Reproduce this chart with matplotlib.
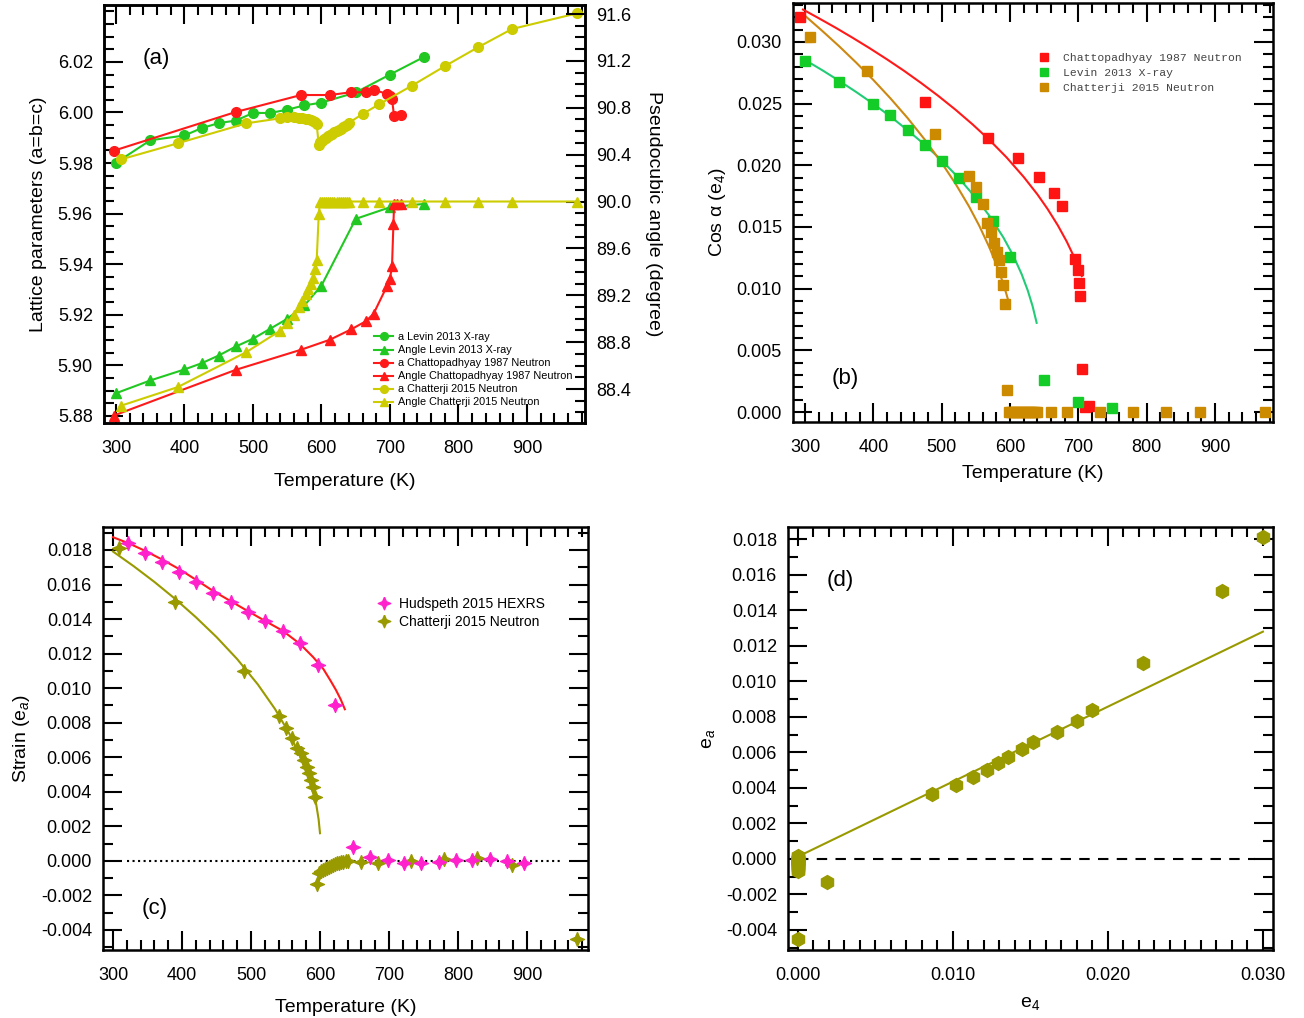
import numpy as np
import matplotlib
matplotlib.use('Agg')
import matplotlib.pyplot as plt
from matplotlib.ticker import MultipleLocator, FixedLocator, FormatStrFormatter

plt.rcParams['font.family'] = ['Liberation Sans', 'DejaVu Sans']
plt.rcParams['mathtext.fontset'] = 'custom'
plt.rcParams['mathtext.rm'] = 'Liberation Sans'
plt.rcParams['mathtext.it'] = 'Liberation Sans:italic'

# ---------------- data : panel (a) ----------------
levin_T = [300, 350, 400, 425, 450, 475, 500, 525, 550, 575, 600, 650, 700, 750]
levin_a = [5.9801, 5.9890, 5.9909, 5.9938, 5.9958, 5.9968, 5.9998, 5.9998, 6.0011,
           6.0028, 6.0039, 6.0079, 6.0150, 6.0220]
levin_angle = [88.364, 88.473, 88.567, 88.620, 88.686, 88.763, 88.829, 88.914, 88.999,
               89.113, 89.283, 89.852, 89.951, 89.980]

chatto_a_T = [297, 475, 570, 612, 643, 665, 676, 696, 700, 703, 706, 716]
chatto_a = [5.9849, 6.0002, 6.0069, 6.0069, 6.0080, 6.0080, 6.0090, 6.0073, 6.0066,
            6.0052, 5.9985, 5.9990]
chatto_ang_T = [297, 475, 570, 612, 643, 665, 676, 696, 700, 703, 705, 706, 710, 716]
chatto_angle = [88.174, 88.564, 88.735, 88.820, 88.908, 88.979, 89.042, 89.283, 89.340,
                89.454, 89.804, 89.98, 89.98, 89.98]

chat_T = [308, 390, 490, 540, 550, 560, 567, 572, 577, 581, 584, 587, 590, 593, 596,
          598, 601, 604, 607, 610, 613, 616, 619, 622, 625, 628, 631, 634, 637, 640,
          660, 684, 732, 780, 828, 878, 973]
chat_a = [5.9815, 5.9878, 5.9957, 5.9977, 5.9981, 5.9981, 5.9979, 5.9978, 5.9975, 5.9974,
          5.9971, 5.9967, 5.9962, 5.9954, 5.9871,
          5.9884, 5.9889, 5.9895, 5.9900, 5.9906, 5.9911, 5.9916, 5.9921, 5.9926, 5.9931,
          5.9936, 5.9941, 5.9946, 5.9952, 5.9959,
          5.9994, 6.0032, 6.0106, 6.0183, 6.0257, 6.0330, 6.0392]
chat_angle = [88.259, 88.416, 88.714, 88.899, 88.965, 89.035, 89.100, 89.155, 89.212,
              89.255, 89.300, 89.350, 89.420, 89.500, 89.890,
              90.0, 90.0, 90.0, 90.0, 90.0, 90.0, 90.0, 90.0, 90.0, 90.0, 90.0, 90.0,
              90.0, 90.0, 90.0,
              90.0, 90.0, 90.0, 90.0, 90.0, 90.0, 90.0]
a_ticks = [5.88, 5.90, 5.92, 5.94, 5.96, 5.98, 6.00, 6.02]

# ---------------- data : panel (b) ----------------
chatto_e4_T = [293, 475, 568, 611, 643, 664, 676, 695, 699, 701, 703, 705, 710, 715]
chatto_e4 = [0.03200, 0.02516, 0.02219, 0.02057, 0.01903, 0.01778, 0.01673, 0.01238,
             0.01151, 0.01043, 0.00940, 0.00346, 0.00038, 0.00049]
levin_e4 = [0.02846, 0.02673, 0.02495, 0.02408, 0.02287, 0.02165, 0.02038, 0.01900,
            0.01746, 0.01551, 0.01254, 0.00259, 0.00084, 0.00035]
chat_e4 = [0.03038, 0.02768, 0.02251, 0.01916, 0.01822, 0.01687, 0.01530, 0.01462,
           0.01368, 0.01300, 0.01232, 0.01138, 0.01030, 0.00876, 0.00178,
           0, 0, 0, 0, 0, 0, 0, 0, 0, 0, 0, 0, 0, 0, 0,
           0, 0, 0, 0, 0, 0, 0]

fit_chatto_T = [297, 320, 345, 370, 395, 420, 445, 470, 495, 520, 545, 570, 595, 620,
                640, 655, 670, 683, 693, 700, 705]
fit_chatto_e4 = [0.03263, 0.03193, 0.03115, 0.03033, 0.02948, 0.02859, 0.02766, 0.02667,
                 0.02563, 0.02452, 0.02333, 0.02205, 0.02064, 0.01906, 0.01765, 0.01646,
                 0.01513, 0.01382, 0.01266, 0.01175, 0.01102]
fit_levin_T = [300, 325, 350, 375, 400, 425, 450, 475, 500, 525, 550, 570, 590, 605,
               617, 626, 633, 639]
fit_levin_e4 = [0.02854, 0.02772, 0.02685, 0.02594, 0.02498, 0.02396, 0.02285, 0.02168,
                0.02040, 0.01897, 0.01736, 0.01589, 0.01418, 0.01265, 0.01118, 0.00985,
                0.00859, 0.00723]
fit_chat_T = [298, 325, 350, 375, 400, 425, 450, 475, 500, 520, 540, 555, 570, 580, 588,
              593, 598]
fit_chat_e4 = [0.03222, 0.03091, 0.02965, 0.02832, 0.02692, 0.02543, 0.02384, 0.02210,
               0.02020, 0.01853, 0.01667, 0.01510, 0.01332, 0.01196, 0.01074, 0.00989,
               0.00894]

# ---------------- data : panel (c) ----------------
hud_T = [322, 346, 371, 396, 420, 445, 471, 495, 521, 546, 571, 597, 622,
         648, 673, 698, 722, 747, 772, 797, 821, 846, 871, 896]
hud_strain = [0.01839, 0.01781, 0.01733, 0.01675, 0.01617, 0.01550, 0.01496, 0.01438,
              0.01386, 0.01328, 0.01260, 0.01135, 0.00903,
              0.00083, 0.00021, 0.00006, -0.00013, -0.00013, -0.00004, 0.00006, 0.00006,
              0.00010, 0.00002, -0.00013]
chat_strain = [0.01810, 0.01501, 0.01102, 0.00836, 0.00772, 0.00710, 0.00652, 0.00623,
               0.00585, 0.00546, 0.00508, 0.00469, 0.00430, 0.00372, -0.00133,
               -0.00071, -0.00060, -0.00052, -0.00045, -0.00039, -0.00033, -0.00028,
               -0.00023, -0.00019, -0.00015, -0.00011, -0.00008, -0.00005, -0.00002, 0.00002,
               -0.00004, -0.00010, 0.00002, 0.00010, 0.00016, -0.00023, -0.00453]
fit_hud_T = [300, 323, 346, 371, 396, 420, 445, 470, 495, 520, 546, 571, 590, 605, 615,
             623, 630, 636]
fit_hud_strain = [0.01874, 0.01838, 0.01796, 0.01745, 0.01689, 0.01628, 0.01563, 0.01505,
                  0.01447, 0.01390, 0.01332, 0.01256, 0.01180, 0.01110, 0.01045, 0.00990,
                  0.00935, 0.00878]
fit_chat_strain_T = [300, 330, 360, 390, 420, 450, 480, 510, 535, 555, 570, 580, 588,
                     594, 598, 600]
fit_chat_strain = [0.01791, 0.01706, 0.01615, 0.01517, 0.01411, 0.01296, 0.01168, 0.01021,
                   0.00878, 0.00741, 0.00616, 0.00512, 0.00420, 0.00340, 0.00240, 0.00160]

# ---------------- data : panel (d) ----------------
d_e4 = [0.02998, 0.02734, 0.02228, 0.01895, 0.01802, 0.01669, 0.01518, 0.01443, 0.01357,
        0.01292, 0.01221, 0.01131, 0.01019, 0.00866, 0.00185,
        0, 0, 0, 0, 0, 0, 0, 0, 0, 0, 0, 0, 0, 0, 0,
        0, 0, 0, 0, 0, 0, 0]
d_ea = [0.01814, 0.01505, 0.01102, 0.00839, 0.00777, 0.00714, 0.00655, 0.00619, 0.00576,
        0.00539, 0.00501, 0.00458, 0.00413, 0.00366, -0.00129,
        -0.00071, -0.00060, -0.00052, -0.00045, -0.00039, -0.00033, -0.00028,
        -0.00023, -0.00019, -0.00015, -0.00011, -0.00008, -0.00005, -0.00002, 0.00002,
        -0.00004, -0.00010, 0.00002, 0.00010, 0.00016, -0.00023, -0.00452]
d_fit_e4 = [0.0, 0.0300]
d_fit_ea = [0.00013, 0.01279]

# ---------------- styling ----------------
GREEN = '#22c822'
RED = '#ff1a1a'
YEL = '#cccc00'
SQ_RED = '#ff1414'
SQ_GREEN = '#14cc28'
BROWN = '#cc8a00'
FIT_GREEN = '#22cc77'
MAGENTA = '#ff22cc'
OLIVE = '#999900'

TICK_FS = 13
LABEL_FS = 14

W, H = 1304, 1018
fig = plt.figure(figsize=(W / 100, H / 100), dpi=100)


def px_axes(x0, y0, x1, y1):
    return fig.add_axes([x0 / W, 1 - y1 / H, (x1 - x0) / W, (y1 - y0) / H])


def style(ax, right=True, top=True):
    for s in ax.spines.values():
        s.set_linewidth(1.8)
    ax.tick_params(which='both', direction='in', top=top, right=right,
                   labelsize=TICK_FS, width=1.5)
    ax.tick_params(which='major', length=14, pad=8)
    ax.tick_params(which='minor', length=7)
    ax.tick_params(axis='x', which='major', pad=12)


star = [(0, 1), (0.3, 0.3), (1, 0), (0.3, -0.3), (0, -1), (-0.3, -0.3), (-1, 0),
        (-0.3, 0.3), (0, 1)]

# ================= panel (a) =================
ax = px_axes(104, 5, 585, 423)
ax2 = ax.twinx()
l1, = ax.plot(levin_T, levin_a, '-o', color=GREEN, ms=7, lw=1.5, label='a Levin 2013 X-ray')
l3, = ax.plot(chatto_a_T, chatto_a, '-o', color=RED, ms=7, lw=1.5,
              label='a Chattopadhyay 1987 Neutron')
l5, = ax.plot(chat_T, chat_a, '-o', color=YEL, ms=7, lw=1.5, label='a Chatterji 2015 Neutron')
l2, = ax2.plot(levin_T, levin_angle, '-^', color=GREEN, ms=7, lw=1.5,
               label='Angle Levin 2013 X-ray')
l4, = ax2.plot(chatto_ang_T, chatto_angle, '-^', color=RED, ms=7, lw=1.5,
               label='Angle Chattopadhyay 1987 Neutron')
l6, = ax2.plot(chat_T, chat_angle, '-^', color=YEL, ms=7, lw=1.5,
               label='Angle Chatterji 2015 Neutron')
ax.set_xlim(282.5, 984.7)
ax.set_ylim(5.8772, 6.0425)
ax2.set_ylim(88.110, 91.677)
ax.xaxis.set_major_locator(MultipleLocator(100))
ax.xaxis.set_minor_locator(MultipleLocator(20))
ax.yaxis.set_major_locator(FixedLocator(a_ticks))
ax.yaxis.set_minor_locator(MultipleLocator(0.005))
ax.yaxis.set_major_formatter(FormatStrFormatter('%.2f'))
ax2.yaxis.set_major_locator(MultipleLocator(0.4))
ax2.yaxis.set_minor_locator(MultipleLocator(0.1))
ax2.yaxis.set_major_formatter(FormatStrFormatter('%.1f'))
style(ax, right=False)
for s in ax2.spines.values():
    s.set_linewidth(1.8)
ax2.tick_params(which='both', direction='in', labelsize=TICK_FS, width=1.5)
ax2.tick_params(which='major', length=14, pad=8)
ax2.tick_params(which='minor', length=7)
ax.set_xlabel('Temperature (K)', fontsize=LABEL_FS, labelpad=12)
ax.set_ylabel('Lattice parameters (a=b=c)', fontsize=LABEL_FS, labelpad=8)
ax2.set_ylabel('Pseudocubic angle (degree)', fontsize=LABEL_FS, rotation=270, labelpad=22)
ax.text(0.08, 0.86, '(a)', transform=ax.transAxes, fontsize=16)
leg = ax2.legend(handles=[l1, l2, l3, l4, l5, l6], loc='upper left',
                 bbox_to_anchor=(0.55, 0.23), frameon=False, fontsize=7.8,
                 handlelength=1.8, handletextpad=0.4, labelspacing=0.28, borderpad=0,
                 markerscale=0.8)

# ================= panel (b) =================
bx = px_axes(793, 3, 1273, 422)
bx.plot(fit_chatto_T, fit_chatto_e4, '-', color=RED, lw=1.5)
bx.plot(fit_levin_T, fit_levin_e4, '-', color=FIT_GREEN, lw=1.5)
bx.plot(fit_chat_T, fit_chat_e4, '-', color='#cc8811', lw=1.5)
h1, = bx.plot(chatto_e4_T, chatto_e4, 's', color=SQ_RED, ms=7, ls='none',
              label='Chattopadhyay 1987 Neutron')
h2, = bx.plot(levin_T, levin_e4, 's', color=SQ_GREEN, ms=7, ls='none', label='Levin 2013 X-ray')
h3, = bx.plot(chat_T, chat_e4, 's', color=BROWN, ms=7, ls='none', label='Chatterji 2015 Neutron')
bx.set_xlim(282.4, 984.9)
bx.set_ylim(-0.00081, 0.03316)
bx.xaxis.set_major_locator(MultipleLocator(100))
bx.xaxis.set_minor_locator(MultipleLocator(20))
bx.yaxis.set_major_locator(MultipleLocator(0.005))
bx.yaxis.set_minor_locator(MultipleLocator(0.001))
bx.yaxis.set_major_formatter(FormatStrFormatter('%.3f'))
style(bx)
bx.set_xlabel('Temperature (K)', fontsize=LABEL_FS, labelpad=7)
bx.set_ylabel('Cos α (e$_{4}$)', fontsize=LABEL_FS, labelpad=6)
bx.text(0.08, 0.09, '(b)', transform=bx.transAxes, fontsize=16)
bx.legend(handles=[h1, h2, h3], loc='upper left', bbox_to_anchor=(0.5, 0.895), frameon=False,
          prop={'family': 'Liberation Mono', 'size': 8.2}, labelcolor='#444444',
          handlelength=1.0, handletextpad=1.1, labelspacing=0.45, borderpad=0,
          markerscale=0.85)

# ================= panel (c) =================
cx = px_axes(103, 527, 588, 950)
cx.plot([320, 950], [0, 0], ':', color='black', lw=1.5)
cx.plot(fit_hud_T, fit_hud_strain, '-', color=RED, lw=1.5)
cx.plot(fit_chat_strain_T, fit_chat_strain, '-', color=OLIVE, lw=1.5)
g2, = cx.plot(chat_T, chat_strain, marker=star, color=OLIVE, ms=10, ls='none',
              label='Chatterji 2015 Neutron')
g1, = cx.plot(hud_T, hud_strain, marker=star, color=MAGENTA, ms=10, ls='none',
              label='Hudspeth 2015 HEXRS')
cx.set_xlim(285.5, 988.4)
cx.set_ylim(-0.00516, 0.01933)
cx.xaxis.set_major_locator(MultipleLocator(100))
cx.xaxis.set_minor_locator(MultipleLocator(20))
cx.yaxis.set_major_locator(MultipleLocator(0.002))
cx.yaxis.set_minor_locator(MultipleLocator(0.001))
cx.yaxis.set_major_formatter(FormatStrFormatter('%.3f'))
style(cx)
cx.set_xlabel('Temperature (K)', fontsize=LABEL_FS, labelpad=11)
cx.set_ylabel('Strain (e$_{a}$)', fontsize=LABEL_FS, labelpad=6)
cx.text(0.08, 0.085, '(c)', transform=cx.transAxes, fontsize=16)
cx.legend(handles=[g1, g2], loc='upper left', bbox_to_anchor=(0.55, 0.851), frameon=False,
          fontsize=10, handlelength=1.0, handletextpad=0.6, labelspacing=0.3, borderpad=0,
          markerscale=0.9)

# ================= panel (d) =================
dx = px_axes(788, 527, 1273, 950)
dx.plot([0.0, 0.0295], [0, 0], '--', color='black', lw=1.5, dashes=(5, 4))
dx.plot(d_fit_e4, d_fit_ea, '-', color=OLIVE, lw=1.5)
dx.plot(d_e4, d_ea, 'h', color=OLIVE, ms=10, ls='none')
dx.set_xlim(-0.000645, 0.03065)
dx.set_ylim(-0.00513, 0.01868)
dx.xaxis.set_major_locator(MultipleLocator(0.01))
dx.xaxis.set_minor_locator(MultipleLocator(0.001))
dx.xaxis.set_major_formatter(FormatStrFormatter('%.3f'))
dx.yaxis.set_major_locator(MultipleLocator(0.002))
dx.yaxis.set_minor_locator(MultipleLocator(0.001))
dx.yaxis.set_major_formatter(FormatStrFormatter('%.3f'))
style(dx)
dx.set_xlabel('e$_{4}$', fontsize=LABEL_FS, labelpad=8)
dx.set_ylabel('e$_{a}$', fontsize=LABEL_FS, labelpad=6)
dx.text(0.08, 0.86, '(d)', transform=dx.transAxes, fontsize=16)

fig.savefig('out.png', dpi=100)
